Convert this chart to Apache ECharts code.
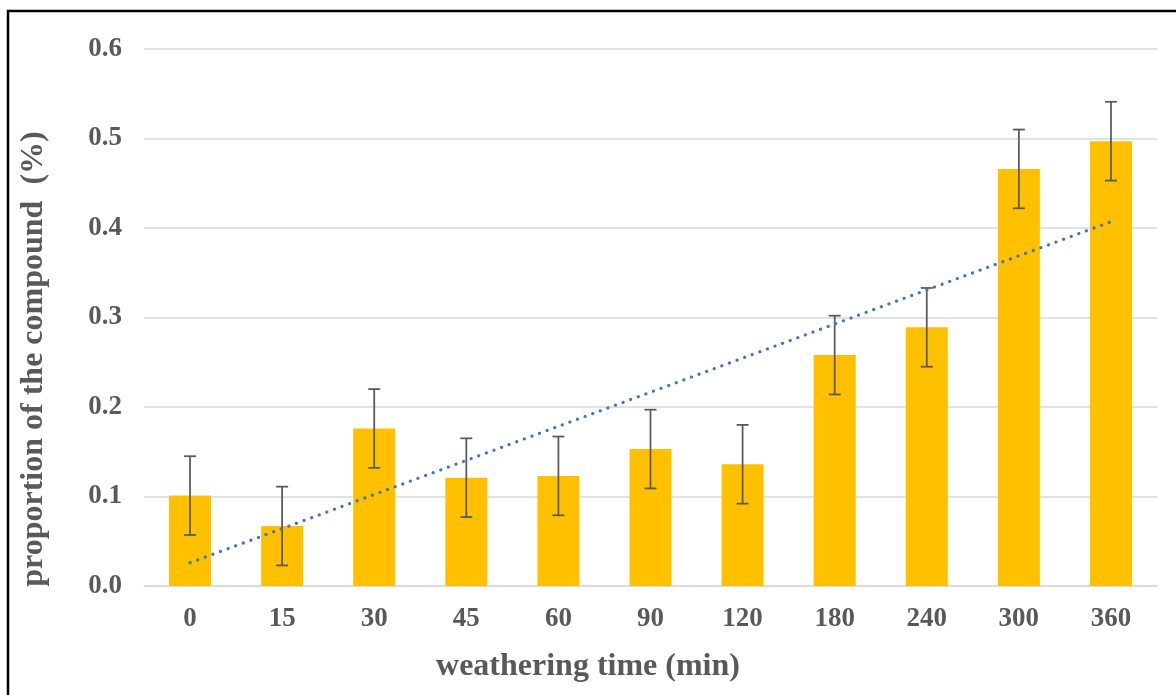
<!DOCTYPE html>
<html>
<head>
<meta charset="utf-8">
<script src="https://cdn.jsdelivr.net/npm/echarts@6/dist/echarts.min.js"></script>
<style>html,body{margin:0;padding:0;background:#fff}#c{width:1176px;height:695px}</style>
</head>
<body>
<div id="c"></div>
<script>
const categories = ['0','15','30','45','60','90','120','180','240','300','360'];
const values = [0.101, 0.067, 0.176, 0.121, 0.123, 0.153, 0.136, 0.258, 0.289, 0.466, 0.497];
const errors = [0.044, 0.044, 0.044, 0.044, 0.044, 0.044, 0.044, 0.044, 0.044, 0.044, 0.044];
const trendStart = 0.026;
const trendEnd = 0.407;
const xTitle = 'weathering time (min)';
const yTitle = 'proportion of the compound  (%)';

const FONT = '"Liberation Serif", "Times New Roman", serif';
const TXT = '#595959';

const trendData = categories.map((c, i) => i === 0 ? trendStart : (i === categories.length - 1 ? trendEnd : '-'));
const errData = values.map((v, i) => [i, v - errors[i], v + errors[i]]);

const chart = echarts.init(document.getElementById('c'));
chart.setOption({
  animation: false,
  backgroundColor: '#fff',
  grid: {left: 144, right: 19, top: 49, bottom: 109},
  graphic: [
    {type: 'rect', silent: true, z: 100,
      shape: {x: 8, y: 11, width: 1200, height: 720},
      style: {fill: 'none', stroke: '#000', lineWidth: 2.5}},
    {type: 'text', silent: true, x: 588, y: 667,
      style: {text: xTitle, font: 'bold 32px ' + FONT, fill: TXT, align: 'center', verticalAlign: 'middle'}},
    {type: 'text', silent: true, x: 34, y: 359, rotation: Math.PI / 2,
      style: {text: yTitle, font: 'bold 32px ' + FONT, fill: TXT, align: 'center', verticalAlign: 'middle'}}
  ],
  xAxis: {
    type: 'category', data: categories,
    axisLine: {show: true, lineStyle: {color: '#d9d9d9', width: 1.5}},
    axisTick: {show: false},
    axisLabel: {fontFamily: FONT, fontWeight: 'bold', fontSize: 27, color: TXT, margin: 20}
  },
  yAxis: {
    type: 'value', min: 0, max: 0.6, interval: 0.1,
    axisLine: {show: false}, axisTick: {show: false},
    splitLine: {lineStyle: {color: '#d9d9d9', width: 1.5}},
    axisLabel: {fontFamily: FONT, fontWeight: 'bold', fontSize: 27, color: TXT, margin: 22,
      padding: [4, 0, 0, 0], formatter: v => v.toFixed(1)}
  },
  series: [
    {type: 'bar', data: values, barWidth: 42, itemStyle: {color: '#FFC000'}, z: 2},
    {type: 'custom', data: errData, z: 3,
      renderItem: function (params, api) {
        const x = api.value(0);
        const lo = api.coord([x, api.value(1)]);
        const hi = api.coord([x, api.value(2)]);
        const hw = 6;
        const st = {stroke: '#595959', lineWidth: 1.75};
        return {type: 'group', children: [
          {type: 'line', shape: {x1: lo[0], y1: lo[1], x2: hi[0], y2: hi[1]}, style: st},
          {type: 'line', shape: {x1: lo[0]-hw, y1: lo[1], x2: lo[0]+hw, y2: lo[1]}, style: st},
          {type: 'line', shape: {x1: hi[0]-hw, y1: hi[1], x2: hi[0]+hw, y2: hi[1]}, style: st}
        ]};
      }
    },
    {type: 'line', data: trendData, connectNulls: true, symbol: 'none', z: 4,
      lineStyle: {color: '#4472C4', width: 3.2, type: [0.1, 8], cap: 'round'}}
  ]
});
</script>
</body>
</html>
